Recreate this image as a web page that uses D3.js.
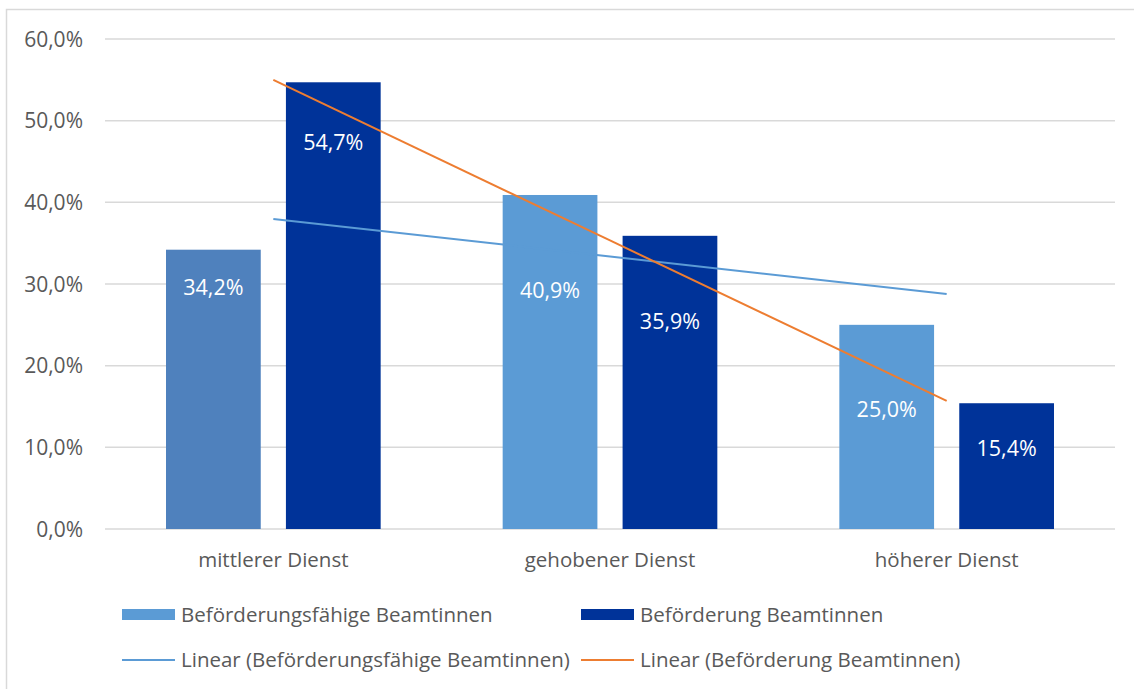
<!DOCTYPE html>
<html>
<head>
<meta charset="utf-8">
<script src="https://cdn.jsdelivr.net/npm/d3@7"></script>
<style>
  body { margin: 0; background: #fff; }
  svg text { font-family: "Open Sans", "Noto Sans", sans-serif; }
</style>
</head>
<body>
<div id="chart"></div>
<script>
var categories = ['mittlerer Dienst', 'gehobener Dienst', 'höherer Dienst'];
var seriesNames = ['Beförderungsfähige Beamtinnen', 'Beförderung Beamtinnen'];
var faehigValues = [34.2, 40.9, 25.0];
var befoerderungValues = [54.7, 35.9, 15.4];
var yTicks = [0, 10, 20, 30, 40, 50, 60];

// label placement below bar top (px), as in the original
var labelOffset = [[38, 95, 85], [60, 86, 45]];

var WIDTH = 1134, HEIGHT = 689;
var colors = ['#5b9bd5', '#003399'];
var firstBarColor = '#4f81bd';
var trendColors = ['#5b9bd5', '#ed7d31'];
var fmt = function (v) { return v.toFixed(1).replace('.', ',') + '%'; };

var svg = d3.select('#chart').append('svg')
    .attr('width', WIDTH)
    .attr('height', HEIGHT);

// chart border
svg.append('rect')
    .attr('x', 6.5).attr('y', 9.5)
    .attr('width', WIDTH + 10).attr('height', HEIGHT + 10)
    .attr('fill', 'none').attr('stroke', '#d9d9d9').attr('stroke-width', 1.5);

var x0 = d3.scaleBand().domain(categories).range([105, 1115]).paddingInner(0).paddingOuter(0);
var x1 = d3.scaleBand().domain([0, 1]).range([61, x0.bandwidth() - 61]).paddingInner(0.21);
var y = d3.scaleLinear().domain([0, 60]).range([529, 39]);

// gridlines
svg.append('g').selectAll('line')
    .data(yTicks).enter().append('line')
    .attr('x1', 105).attr('x2', 1115)
    .attr('y1', function (d) { return y(d); })
    .attr('y2', function (d) { return y(d); })
    .attr('stroke', '#d9d9d9').attr('stroke-width', 1.5);

var yAxis = svg.append('g')
    .attr('transform', 'translate(83,0)')
    .call(d3.axisLeft(y).tickValues(yTicks).tickSize(0).tickPadding(0).tickFormat(fmt));
yAxis.select('.domain').remove();
yAxis.selectAll('text')
    .attr('fill', '#595959').style('font-size', '21px').attr('dy', '0.34em');

var xAxis = svg.append('g')
    .attr('transform', 'translate(0,529)')
    .call(d3.axisBottom(x0).tickSize(0).tickPadding(27));
xAxis.select('.domain').remove();
xAxis.selectAll('text')
    .attr('fill', '#595959').style('font-size', '20.5px').attr('dy', '0.55em');

var series = [faehigValues, befoerderungValues];

var bars = [];
series.forEach(function (vals, s) {
    vals.forEach(function (v, i) {
        bars.push({ s: s, i: i, v: v });
    });
});

svg.append('g').selectAll('rect')
    .data(bars).enter().append('rect')
    .attr('x', function (d) { return x0(categories[d.i]) + x1(d.s); })
    .attr('y', function (d) { return y(d.v); })
    .attr('width', x1.bandwidth())
    .attr('height', function (d) { return y(0) - y(d.v); })
    .attr('fill', function (d) { return (d.s === 0 && d.i === 0) ? firstBarColor : colors[d.s]; });

svg.append('g').selectAll('text')
    .data(bars).enter().append('text')
    .attr('x', function (d) { return x0(categories[d.i]) + x1(d.s) + x1.bandwidth() / 2; })
    .attr('y', function (d) { return y(d.v) + labelOffset[d.s][d.i]; })
    .attr('dy', '0.35em')
    .attr('text-anchor', 'middle')
    .attr('fill', '#fff')
    .style('font-size', '21.5px')
    .text(function (d) { return fmt(d.v); });

// linear trend lines (least squares over category index)
function linearFit(vals) {
    var xs = vals.map(function (_, i) { return i + 1; });
    var mx = d3.mean(xs), my = d3.mean(vals);
    var num = d3.sum(xs, function (xv, i) { return (xv - mx) * (vals[i] - my); });
    var den = d3.sum(xs, function (xv) { return (xv - mx) * (xv - mx); });
    var slope = num / den, icpt = my - slope * mx;
    return xs.map(function (xv) { return icpt + slope * xv; });
}

var line = d3.line()
    .x(function (d, i) { return x0(categories[i]) + x0.bandwidth() / 2; })
    .y(function (d) { return y(d); });

series.forEach(function (vals, s) {
    svg.append('path')
        .datum(linearFit(vals))
        .attr('d', line)
        .attr('fill', 'none')
        .attr('stroke', trendColors[s])
        .attr('stroke-width', 2);
});

// legend
var legend = svg.append('g');
var legX = [122, 581];
seriesNames.forEach(function (name, s) {
    legend.append('rect')
        .attr('x', legX[s]).attr('y', 609)
        .attr('width', 53).attr('height', 11)
        .attr('fill', colors[s]);
    legend.append('text')
        .attr('x', legX[s] + 59).attr('y', 615)
        .attr('dy', '0.35em')
        .attr('fill', '#595959').style('font-size', '20.5px')
        .text(name);
    legend.append('line')
        .attr('x1', legX[s]).attr('x2', legX[s] + 53)
        .attr('y1', 660).attr('y2', 660)
        .attr('stroke', trendColors[s]).attr('stroke-width', 2);
    legend.append('text')
        .attr('x', legX[s] + 59).attr('y', 660)
        .attr('dy', '0.35em')
        .attr('fill', '#595959').style('font-size', '20.5px')
        .text('Linear (' + name + ')');
});
</script>
</body>
</html>
